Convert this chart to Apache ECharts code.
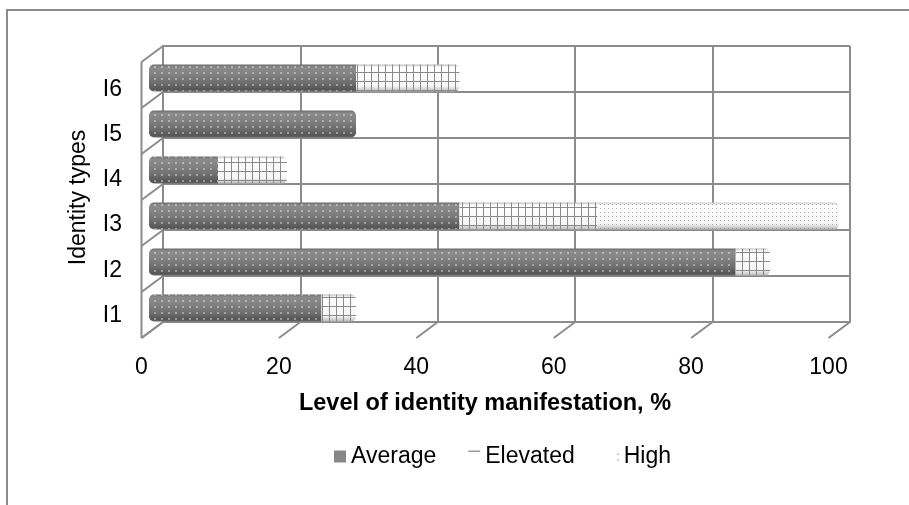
<!DOCTYPE html>
<html>
<head>
<meta charset="utf-8">
<script src="https://cdn.jsdelivr.net/npm/echarts@6/dist/echarts.min.js"></script>
<style>
  html, body { margin: 0; padding: 0; background: #ffffff; }
  #chart { width: 909px; height: 505px; }
</style>
</head>
<body>
<div id="chart"></div>
<script>
// ---- data ----
const categories = ['I1', 'I2', 'I3', 'I4', 'I5', 'I6'];
const average  = [25, 85, 45, 10, 30, 30];
const elevated = [5, 5, 20, 10, 0, 15];
const high     = [0, 0, 35, 0, 0, 0];
const xTicks   = [0, 20, 40, 60, 80, 100];
const seriesNames = ['Average', 'Elevated', 'High'];
const xTitle = 'Level of identity manifestation, %';
const yTitle = 'Identity types';

// ---- style constants ----
const FONT = '"Liberation Sans", Arial, sans-serif';
const LINE = '#8c8c8c';
const DX = 21.5, DY = 16; // 3D depth offset of the chart walls
const R = 5;

const chart = echarts.init(document.getElementById('chart'), null, { renderer: 'canvas' });

const allSeries = [average, elevated, high];
function lastIndex(i) {
  let last = -1;
  allSeries.forEach((s, k) => { if (s[i] > 0) last = k; });
  return last;
}
function makeData(arr, k) {
  return arr.map((v, i) => {
    const isFirst = k === 0;
    const isLast = lastIndex(i) === k;
    return {
      value: v,
      itemStyle: { borderRadius: [isFirst ? R : 0, isLast ? R : 0, isLast ? R : 0, isFirst ? R : 0] }
    };
  });
}

const grad = (stops) => new echarts.graphic.LinearGradient(0, 0, 0, 1,
  stops.map(s => ({ offset: s[0], color: s[1] })));

const avgStyle = {
  color: grad([[0, '#6a6a6a'], [0.1, '#8c8c8c'], [0.35, '#838383'], [0.7, '#6c6c6c'], [0.92, '#565656'], [1, '#686868']]),
  decal: {
    symbol: 'rect', symbolSize: 1, color: 'rgba(255,255,255,0.38)',
    dashArrayX: [1.3, 4.2], dashArrayY: [1.3, 3.6], rotation: 0
  }
};
const elevStyle = {
  color: grad([[0, '#bdbdbd'], [0.1, '#ffffff'], [0.8, '#f6f6f6'], [1, '#b8b8b8']]),
  decal: {
    symbol: 'path://M0,0H7V1H0Z M0,0H1V9H0Z', symbolSize: 1, symbolKeepAspect: false,
    color: '#8a8a8a', dashArrayX: [7, 0], dashArrayY: [9, 0], rotation: 0
  }
};
const highStyle = {
  color: grad([[0, '#c8c8c8'], [0.1, '#ffffff'], [0.8, '#f4f4f4'], [1, '#b5b5b5']]),
  decal: {
    symbol: 'rect', symbolSize: 1, color: 'rgba(110,110,110,0.55)',
    dashArrayX: [1, 2.2], dashArrayY: [1, 2.2], rotation: 0
  }
};

const hiddenCat = { type: 'category', data: categories, show: false };
const hiddenVal = { type: 'value', min: 0, max: 100, interval: 20, show: false };

const option = {
  backgroundColor: '#ffffff',
  animation: false,
  textStyle: { fontFamily: FONT },
  graphic: [{
    type: 'rect', silent: true, z: -10,
    shape: { x: 7, y: 10, width: 1000, height: 1000 },
    style: { fill: 'none', stroke: LINE, lineWidth: 2 }
  }],
  grid: [
    // back wall
    { left: 163, right: 59, top: 46, bottom: 183 },
    // front floor edge (x labels)
    { left: 141.5, right: 80.5, top: 62, bottom: 167 },
    // category labels
    { left: 142, right: 80, top: 67, bottom: 167 },
    // bars at mid depth
    { left: 149, right: 70, top: 55, bottom: 174 }
  ],
  xAxis: [
    {
      gridIndex: 0, type: 'value', min: 0, max: 100, interval: 20,
      axisLine: { show: true, lineStyle: { color: LINE, width: 2 } },
      axisTick: { show: false }, axisLabel: { show: false },
      splitLine: { show: true, lineStyle: { color: LINE, width: 2 } }
    },
    {
      gridIndex: 1, type: 'value', min: 0, max: 100, interval: 20,
      axisLine: { show: false }, axisTick: { show: false }, splitLine: { show: false },
      axisLabel: { show: true, margin: 18, fontSize: 23, color: '#000', fontFamily: FONT },
      name: xTitle, nameLocation: 'middle', nameGap: 54,
      nameTextStyle: { fontSize: 23.5, fontWeight: 'bold', color: '#000', fontFamily: FONT }
    },
    Object.assign({ gridIndex: 2 }, hiddenVal),
    Object.assign({ gridIndex: 3 }, hiddenVal)
  ],
  yAxis: [
    {
      gridIndex: 0, type: 'category', data: categories,
      axisLine: { show: true, lineStyle: { color: LINE, width: 2 } },
      axisTick: { show: false }, axisLabel: { show: false },
      splitLine: { show: true, lineStyle: { color: LINE, width: 2 } }
    },
    Object.assign({ gridIndex: 1 }, hiddenCat),
    {
      gridIndex: 2, type: 'category', data: categories,
      axisLine: { show: false }, axisTick: { show: false }, splitLine: { show: false },
      axisLabel: { margin: 20, fontSize: 23, color: '#000', fontFamily: FONT },
      name: yTitle, nameLocation: 'middle', nameGap: 52, nameRotate: 90,
      nameTextStyle: { fontSize: 23, color: '#000', fontFamily: FONT, padding: [0, 0, 0, 10] }
    },
    Object.assign({ gridIndex: 3 }, hiddenCat)
  ],
  legend: {
    left: 329, top: 440, itemWidth: 12, itemHeight: 12, itemGap: 32,
    textStyle: { fontSize: 23, color: '#000', fontFamily: FONT },
    data: [
      { name: seriesNames[0], icon: 'rect', itemStyle: { color: '#878787', decal: 'none' } },
      { name: seriesNames[1], icon: 'path://M0,0H12V1.6H0Z M0,12H0.01V12.01H0Z', itemStyle: { color: '#9a9a9a', decal: 'none' } },
      { name: seriesNames[2], icon: 'path://M10.4,3H12V4.6H10.4Z M10.4,8.5H12V10.1H10.4Z M0,0H0.01V0.01H0Z M0,12H0.01V12.01H0Z', itemStyle: { color: '#b0b0b0', decal: 'none' } }
    ]
  },
  series: [
    // floor depth lines at each x tick
    {
      type: 'custom', xAxisIndex: 0, yAxisIndex: 0, silent: true, z: 1,
      data: xTicks.map(v => [v, 0]),
      renderItem: function (params, api) {
        const p = api.coord([api.value(0), 0]);
        const band = api.size([0, 1])[1];
        const yb = p[1] + band / 2;
        return {
          type: 'line',
          shape: { x1: p[0], y1: yb, x2: p[0] - DX, y2: yb + DY },
          style: { stroke: LINE, lineWidth: 2 }
        };
      }
    },
    // left wall depth lines at each category boundary + front edge
    {
      type: 'custom', xAxisIndex: 0, yAxisIndex: 0, silent: true, z: 1,
      data: categories.concat(['']).map((c, k) => [0, k]),
      renderItem: function (params, api) {
        const k = api.value(1);
        const p = api.coord([0, 0]);
        const band = api.size([0, 1])[1];
        const yb = p[1] + band / 2;
        const y = yb - k * band;
        const children = [{
          type: 'line',
          shape: { x1: p[0], y1: y, x2: p[0] - DX, y2: y + DY },
          style: { stroke: LINE, lineWidth: 2 }
        }];
        if (k === 0) {
          children.push({
            type: 'line',
            shape: { x1: p[0] - DX, y1: yb + DY, x2: p[0] - DX, y2: yb - categories.length * band + DY },
            style: { stroke: LINE, lineWidth: 2 }
          });
        }
        return { type: 'group', children: children };
      }
    },
    {
      name: seriesNames[0], type: 'bar', stack: 'total', xAxisIndex: 3, yAxisIndex: 3,
      barWidth: 27, itemStyle: avgStyle, data: makeData(average, 0), z: 3
    },
    {
      name: seriesNames[1], type: 'bar', stack: 'total', xAxisIndex: 3, yAxisIndex: 3,
      barWidth: 27, itemStyle: elevStyle, data: makeData(elevated, 1), z: 3
    },
    {
      name: seriesNames[2], type: 'bar', stack: 'total', xAxisIndex: 3, yAxisIndex: 3,
      barWidth: 27, itemStyle: highStyle, data: makeData(high, 2), z: 3
    }
  ]
};
chart.setOption(option);
</script>
</body>
</html>
